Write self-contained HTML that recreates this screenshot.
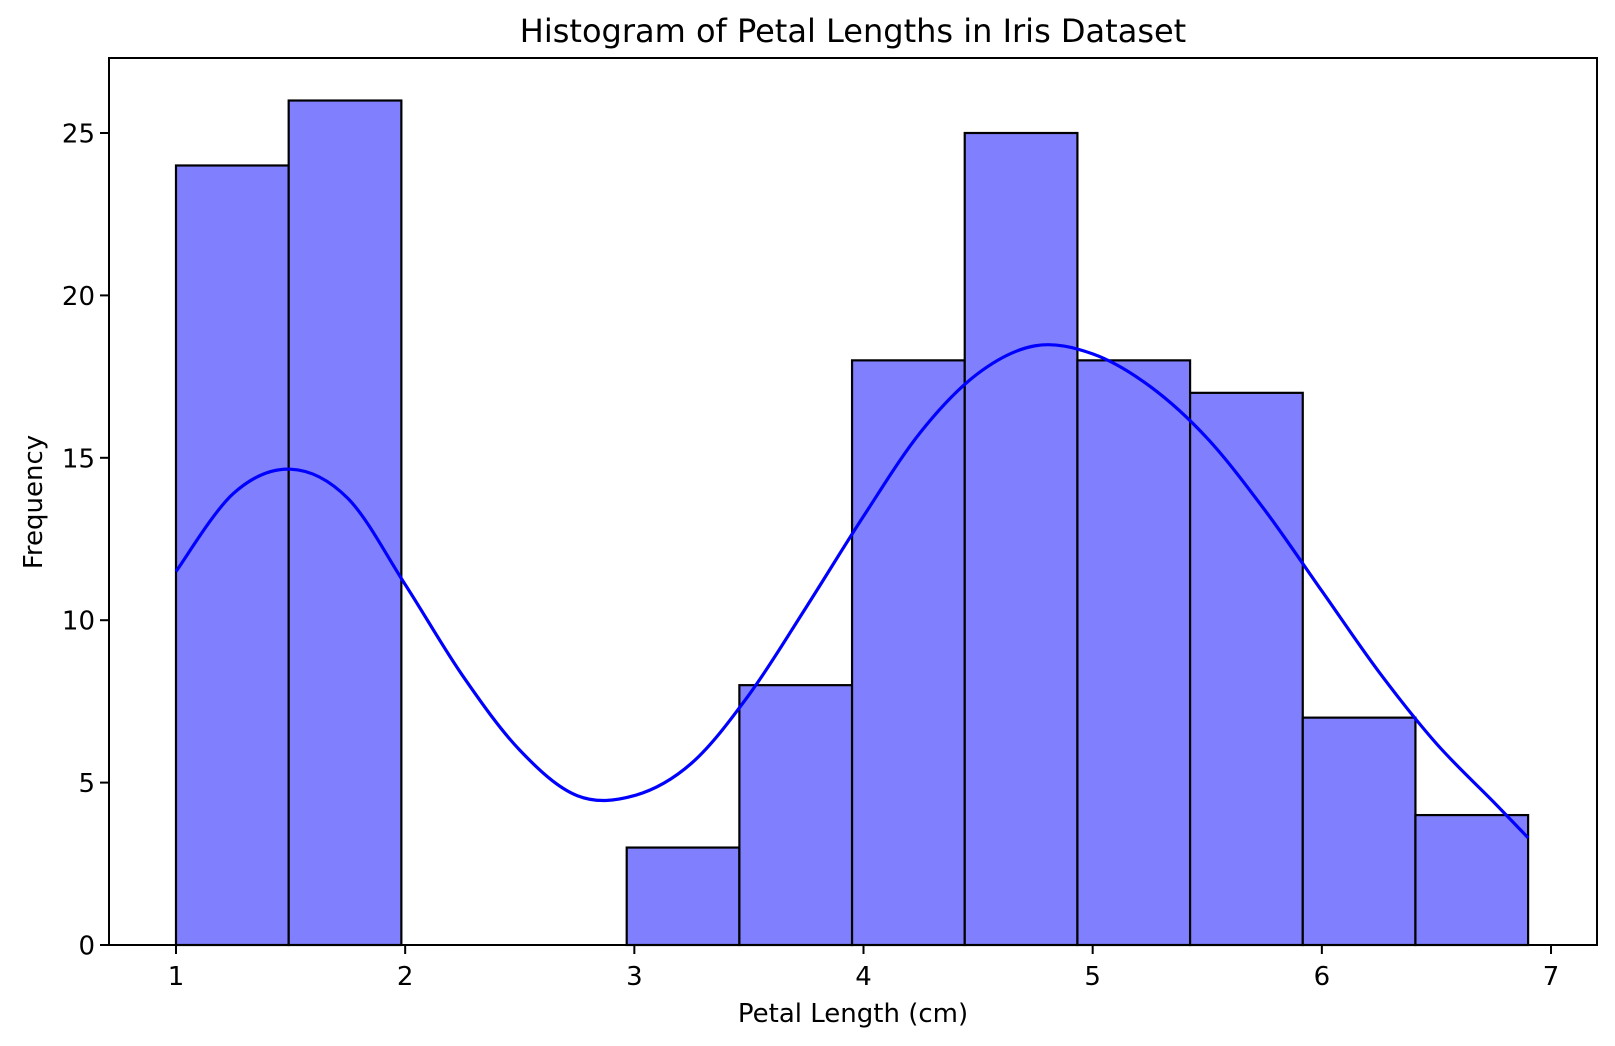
<!DOCTYPE html>
<html><head><meta charset="utf-8"><style>
body{margin:0;background:#fff}
svg{display:block}
text{font-family:"DejaVu Sans","Liberation Sans",sans-serif;fill:#000}
</style></head><body>
<svg id="chart" width="1615" height="1046" viewBox="0 0 1615 1046" xmlns="http://www.w3.org/2000/svg">
<text x="853" y="42" font-size="32" text-anchor="middle">Histogram of Petal Lengths in Iris Dataset</text>
<text x="853" y="1022" font-size="26" text-anchor="middle">Petal Length (cm)</text>
<text x="0" y="0" font-size="26" text-anchor="middle" transform="translate(42,502) rotate(-90)">Frequency</text>
<g id="bars"></g>
<g id="kde"></g>
<g id="axes"></g>
</svg>
<script>
const binStart = 1.0;
const binWidth = 0.49167;
const counts = [24, 26, 0, 0, 3, 8, 18, 25, 18, 17, 7, 4];
const kdeX = [1.0, 1.25, 1.5, 1.75, 2.0, 2.25, 2.5, 2.75, 3.0, 3.25, 3.5, 3.75, 4.0, 4.25, 4.5, 4.75, 5.0, 5.25, 5.5, 5.75, 6.0, 6.25, 6.5, 6.75, 6.9];
const kdeY = [11.5, 13.9, 14.65, 13.75, 11.1, 8.3, 6.0, 4.6, 4.6, 5.6, 7.7, 10.4, 13.2, 15.8, 17.6, 18.45, 18.2, 17.2, 15.6, 13.4, 10.9, 8.4, 6.2, 4.4, 3.3];
const xTicks = [1, 2, 3, 4, 5, 6, 7];
const yTicks = [0, 5, 10, 15, 20, 25];

const NS = "http://www.w3.org/2000/svg";
const L = 109, R = 1597, T = 58, B = 945;
function xs(v){ return 176 + (v - 1) * 229.17; }
function ys(v){ return 945 - v * 32.48; }
function mk(tag, attrs, parent){
  const e = document.createElementNS(NS, tag);
  for (const k in attrs) e.setAttribute(k, attrs[k]);
  parent.appendChild(e); return e;
}
const bars = document.getElementById('bars');
counts.forEach((c, i) => {
  const x0 = xs(binStart + i * binWidth), x1 = xs(binStart + (i + 1) * binWidth);
  const r = mk('rect', {x: x0, y: ys(c), width: x1 - x0, height: ys(0) - ys(c), fill: '#8080ff', stroke: '#000', 'stroke-width': 2.2}, bars);
  
  
});
const pts = kdeX.map((v, i) => [xs(v), ys(kdeY[i])]);
let d = `M${pts[0][0]},${pts[0][1]}`;
for (let i = 0; i < pts.length - 1; i++) {
  const p0 = pts[Math.max(0, i - 1)], p1 = pts[i], p2 = pts[i + 1], p3 = pts[Math.min(pts.length - 1, i + 2)];
  const c1 = [p1[0] + (p2[0] - p0[0]) / 6, p1[1] + (p2[1] - p0[1]) / 6];
  const c2 = [p2[0] - (p3[0] - p1[0]) / 6, p2[1] - (p3[1] - p1[1]) / 6];
  d += ` C${c1[0]},${c1[1]} ${c2[0]},${c2[1]} ${p2[0]},${p2[1]}`;
}
const kp = mk('path', {d: d, fill: 'none', stroke: '#0000ff', 'stroke-width': 3.2}, document.getElementById('kde'));



const axes = document.getElementById('axes');
const frame = mk('rect', {x: L, y: T, width: R - L, height: B - T, fill: 'none', stroke: '#000', 'stroke-width': 2}, axes);


xTicks.forEach(t => {
  const x = xs(t);
  const tk = mk('line', {x1: x, x2: x, y1: B, y2: B + 9, stroke: '#000', 'stroke-width': 2}, axes);
  
  
  const lb = mk('text', {x: x, y: 985, 'font-size': 26, 'text-anchor': 'middle'}, axes);
  lb.textContent = t;
  
  
});
yTicks.forEach(t => {
  const y = ys(t);
  const tk = mk('line', {x1: L - 9, x2: L, y1: y, y2: y, stroke: '#000', 'stroke-width': 2}, axes);
  
  
  const lb = mk('text', {x: 95, y: y + 9.5, 'font-size': 26, 'text-anchor': 'end'}, axes);
  lb.textContent = t;
  
  
});
</script>
</body></html>
